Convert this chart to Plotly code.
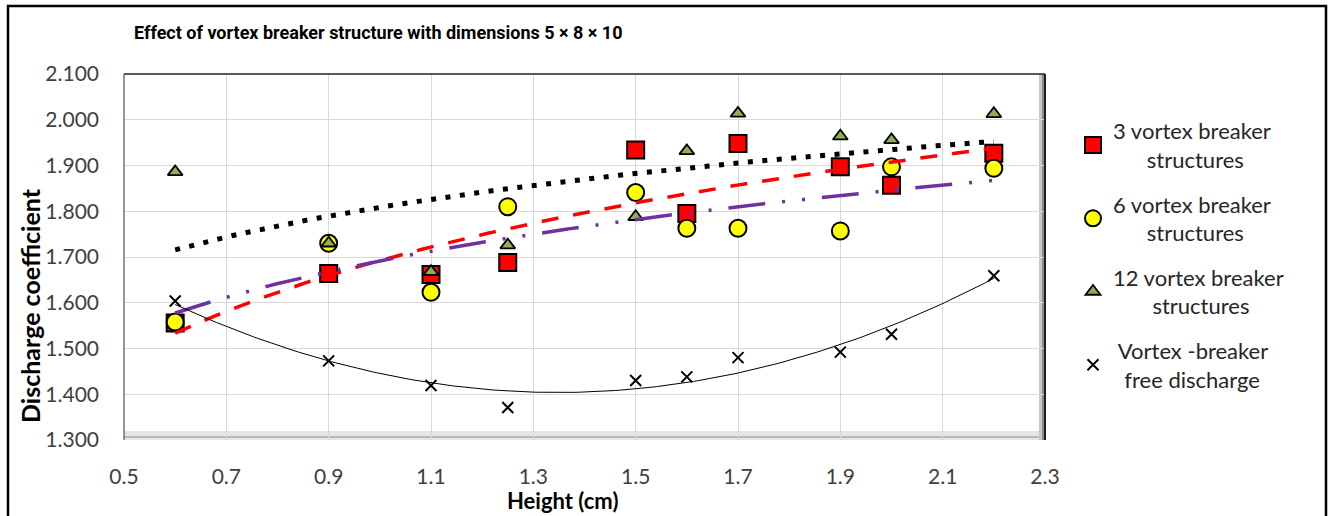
import numpy as np
import plotly.graph_objects as go

# ---------------- data ----------------
height_cm = [0.6, 0.9, 1.1, 1.25, 1.5, 1.6, 1.7, 1.9, 2.0, 2.2]
cd_3_vb = [1.556, 1.664, 1.662, 1.688, 1.934, 1.795, 1.948, 1.897, 1.857, 1.927]
cd_6_vb = [1.558, 1.730, 1.623, 1.810, 1.841, 1.763, 1.763, 1.757, 1.897, 1.894]
cd_12_vb = [1.886, 1.730, 1.668, 1.726, 1.788, 1.932, 2.014, 1.964, 1.956, 2.013]
cd_free = [1.604, 1.473, 1.419, 1.371, 1.430, 1.438, 1.480, 1.492, 1.531, 1.659]

x_ticks = [0.5, 0.7, 0.9, 1.1, 1.3, 1.5, 1.7, 1.9, 2.1, 2.3]
y_ticks = [1.3, 1.4, 1.5, 1.6, 1.7, 1.8, 1.9, 2.0, 2.1]

NB = "\u00a0"
names = [
    "3 vortex breaker<br>" + NB * 6 + "structures",
    "6 vortex breaker<br>" + NB * 6 + "structures",
    "12 vortex breaker<br>" + NB * 7 + "structures",
    NB * 1 + "Vortex -breaker<br>" + NB * 2 + "free discharge",
]
title_text = "Effect of vortex breaker structure with dimensions 5 × 8 × 10"

# ---------------- trendlines (Excel-style fits of the data) ----------------
xa = np.array(height_cm)
xs = np.linspace(xa.min(), xa.max(), 200)


def log_fit(y):
    b, a = np.polyfit(np.log(xa), np.array(y), 1)
    return a + b * np.log(xs)


poly_free = np.polyval(np.polyfit(xa, np.array(cd_free), 2), xs)

fig = go.Figure()

# markers
fig.add_trace(go.Scatter(
    x=height_cm, y=cd_3_vb, mode="markers", name=names[0], legendgroup="a",
    marker=dict(symbol="square", size=17, color="#FF0000",
                line=dict(color="black", width=2))))
fig.add_trace(go.Scatter(
    x=height_cm, y=cd_6_vb, mode="markers", name=names[1], legendgroup="b",
    marker=dict(symbol="circle", size=17, color="#FFFF00",
                line=dict(color="black", width=2))))
fig.add_trace(go.Scatter(
    x=height_cm, y=cd_12_vb, mode="markers", name=names[2], legendgroup="c",
    marker=dict(symbol="triangle-up", size=13, color="#8FB04F",
                line=dict(color="black", width=1.8))))
fig.add_trace(go.Scatter(
    x=height_cm, y=cd_free, mode="markers", name=names[3], legendgroup="d",
    marker=dict(symbol="x-thin", size=11, color="black",
                line=dict(color="black", width=2))))

# trendlines (drawn above markers, hidden from legend)
fig.add_trace(go.Scatter(x=xs, y=log_fit(cd_12_vb), mode="lines", showlegend=False,
                         line=dict(color="black", width=5, dash="5px,9.5px")))
fig.add_trace(go.Scatter(x=xs, y=log_fit(cd_3_vb), mode="lines", showlegend=False,
                         line=dict(color="#FF0000", width=3.5, dash="17px,15px")))
fig.add_trace(go.Scatter(x=xs, y=log_fit(cd_6_vb), mode="lines", showlegend=False,
                         line=dict(color="#7030A0", width=3.5,
                                   dash="37px,17px,3px,17px,3px,17px")))
fig.add_trace(go.Scatter(x=xs, y=poly_free, mode="lines", showlegend=False,
                         line=dict(color="black", width=1)))

L, R, T, B = 124, 1045, 74, 440
W, H = 1331, 516
pw, ph = R - L, B - T


def px(xp):
    return (xp - L) / pw


def py(yp):
    return (B - yp) / ph


tick_font = dict(family="Lato, Open Sans, sans-serif", size=21, color="#404040")

fig.update_layout(
    width=W, height=H,
    margin=dict(l=L, r=W - R, t=T, b=H - B, pad=0),
    paper_bgcolor="white", plot_bgcolor="white",
    showlegend=True,
    legend=dict(x=px(1073), y=py(110), xanchor="left", yanchor="top",
                font=dict(family="Lato, Open Sans, sans-serif", size=22, color="#262626"),
                traceorder="grouped", tracegroupgap=13, bgcolor="rgba(0,0,0,0)",
                itemsizing="trace"),
    xaxis=dict(range=[0.5, 2.3], tickvals=x_ticks, tickformat=".1f",
               showgrid=True, gridcolor="#D9D9D9", gridwidth=1,
               zeroline=False, showline=False, ticks="",
               ticklabelstandoff=22, tickfont=tick_font),
    yaxis=dict(range=[1.3, 2.1], tickvals=y_ticks, tickformat=".3f",
               showgrid=True, gridcolor="#D9D9D9", gridwidth=1,
               zeroline=False, showline=False, ticks="",
               ticklabelstandoff=24, tickfont=tick_font),
    annotations=[
        dict(text="<b>" + title_text + "</b>", xref="paper", yref="paper",
             x=px(378), y=py(32), xanchor="center", yanchor="middle", showarrow=False,
             font=dict(family="Liberation Sans Narrow, Roboto, sans-serif", size=18, color="black")),
        dict(text="<b>Height (cm)</b>", xref="paper", yref="paper",
             x=px(562), y=py(500), xanchor="center", yanchor="middle", showarrow=False,
             font=dict(family="Lato, Open Sans, sans-serif", size=22, color="black")),
        dict(text="<b>Discharge coefficient</b>", xref="paper", yref="paper",
             x=px(30), y=py(306), xanchor="center", yanchor="middle", showarrow=False,
             textangle=-90,
             font=dict(family="Lato, Open Sans, sans-serif", size=25, color="black")),
    ],
    shapes=[
        # plot-area bevel (bottom & right), under gridlines
        dict(type="rect", xref="x domain", yref="y domain", x0=0, x1=1,
             y0=0, y1=py(431), layer="below", line=dict(width=0), fillcolor="#E6E6E6"),
        dict(type="line", xref="x domain", yref="y domain", x0=0, x1=1,
             y0=py(437), y1=py(437), layer="below", line=dict(width=2, color="#B8B8B8")),
        dict(type="rect", xref="x domain", yref="y domain", x0=px(1039), x1=1,
             y0=0, y1=1, layer="below", line=dict(width=0), fillcolor="#C8C8C8"),
        dict(type="rect", xref="x domain", yref="y domain", x0=px(1042), x1=1,
             y0=0, y1=1, layer="below", line=dict(width=0), fillcolor="#888888"),
        # plot-area border lines
        dict(type="line", xref="x domain", yref="y domain", x0=0, x1=1, y0=1, y1=1,
             line=dict(width=1.5, color="#202020")),
        dict(type="line", xref="x domain", yref="y domain", x0=0, x1=0, y0=0, y1=1,
             line=dict(width=1.2, color="#505050")),
        dict(type="line", xref="x domain", yref="y domain", x0=1, x1=1, y0=0, y1=1,
             line=dict(width=2, color="#202020")),
        # chart outer border
        dict(type="rect", xref="paper", yref="paper",
             x0=px(8), x1=px(1326), y0=py(530), y1=py(6),
             line=dict(width=2.5, color="black"), fillcolor="rgba(0,0,0,0)"),
    ],
)

fig.write_html(
    "out.html",
    config={"displayModeBar": False},
    post_script="document.body.style.margin='0px';document.body.style.padding='0px';",
)
